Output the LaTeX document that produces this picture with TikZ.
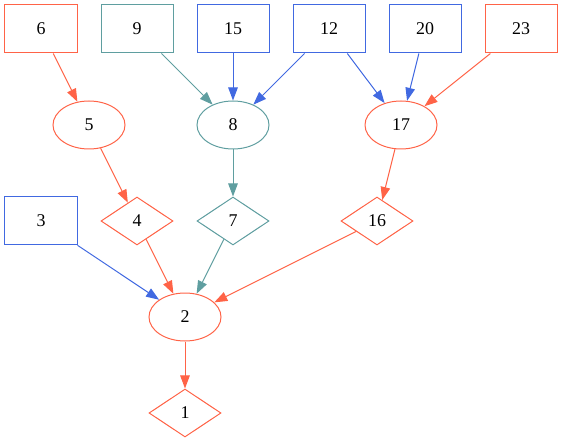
\documentclass[tikz,border=0pt]{standalone}
\usepackage{fontspec}
\setmainfont{Liberation Serif}
\usetikzlibrary{shapes.geometric,arrows.meta}
\definecolor{tom}{HTML}{FF6347}
\definecolor{cad}{HTML}{5F9EA0}
\definecolor{roy}{HTML}{4169E1}
\begin{document}
\begin{tikzpicture}[x=1bp,y=-1bp,
  every node/.style={font=\fontsize{18}{20}\selectfont, inner sep=0pt, line width=1bp, text=black},
  boxn/.style={draw=#1, rectangle, minimum width=72bp, minimum height=48bp},
  elln/.style={draw=#1, ellipse, minimum width=72bp, minimum height=48bp},
  diam/.style={draw=#1, diamond, minimum width=72bp, minimum height=48bp},
  edge/.style={draw=#1, line width=1bp, -{Triangle[length=13bp,width=9.5bp]}}]
\useasboundingbox (0,0) rectangle (563,443);
\node[boxn=tom] (n6) at (41,29) {6};
\node[boxn=cad] (n9) at (137,29) {9};
\node[boxn=roy] (n15) at (233,29) {15};
\node[boxn=roy] (n12) at (329,29) {12};
\node[boxn=roy] (n20) at (425,29) {20};
\node[boxn=tom] (n23) at (521,29) {23};
\node[elln=tom] (n5) at (89,125) {5};
\node[elln=cad] (n8) at (233,125) {8};
\node[elln=tom] (n17) at (401,125) {17};
\node[boxn=roy] (n3) at (41,221) {3};
\node[diam=tom] (n4) at (137,221) {4};
\node[diam=cad] (n7) at (233,221) {7};
\node[diam=tom] (n16) at (377,221) {16};
\node[elln=tom] (n2) at (185,317) {2};
\node[diam=tom] (n1) at (185,413) {1};
\draw[edge=tom] (n6) -- (n5);
\draw[edge=cad] (n9) -- (n8);
\draw[edge=roy] (n15) -- (n8);
\draw[edge=roy] (n12) -- (n8);
\draw[edge=roy] (n12) -- (n17);
\draw[edge=roy] (n20) -- (n17);
\draw[edge=tom] (n23) -- (n17);
\draw[edge=tom] (n5) -- (n4);
\draw[edge=cad] (n8) -- (n7);
\draw[edge=tom] (n17) -- (n16);
\draw[edge=roy] (n3) -- (n2);
\draw[edge=tom] (n4) -- (n2);
\draw[edge=cad] (n7) -- (n2);
\draw[edge=tom] (n16) -- (n2);
\draw[edge=tom] (n2) -- (n1);
\end{tikzpicture}
\end{document}
